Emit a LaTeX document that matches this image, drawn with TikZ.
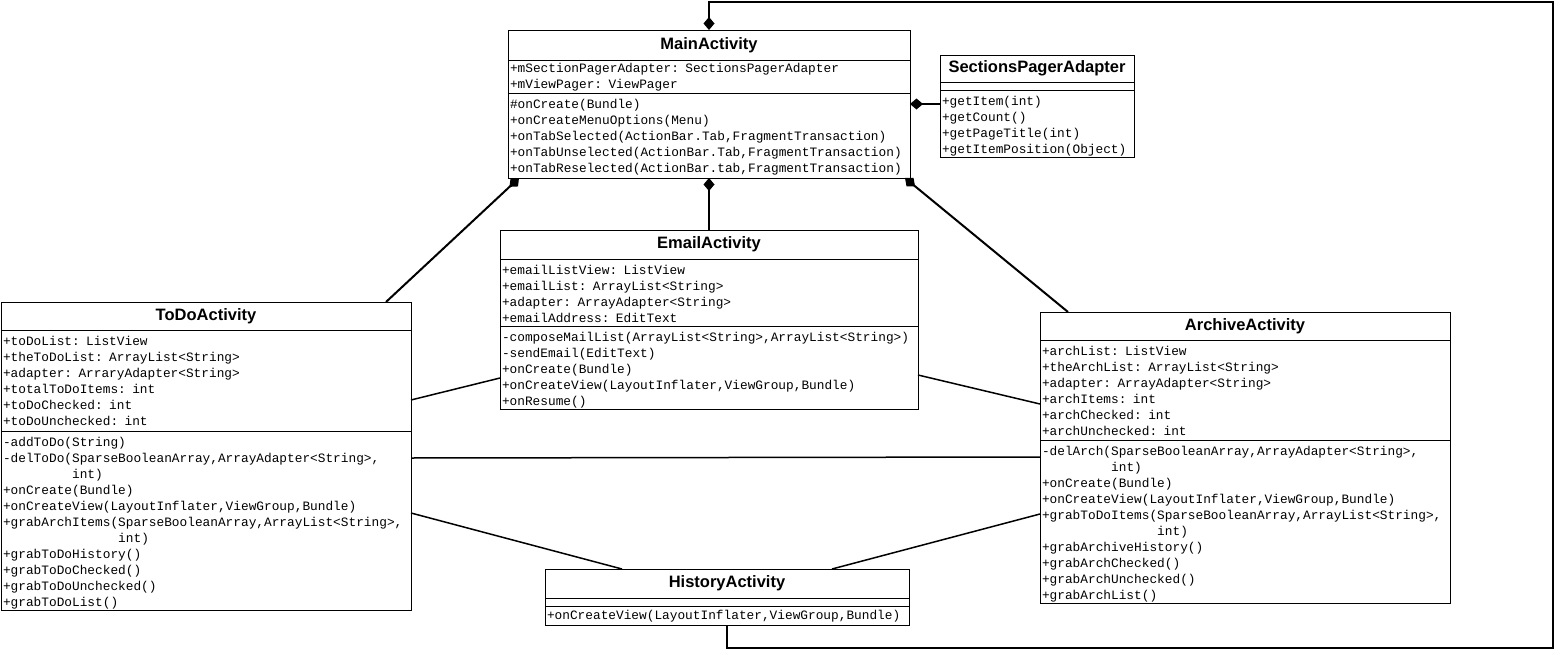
\documentclass[tikz,border=0pt]{standalone}
\usepackage{fontspec}
\setmonofont{Liberation Mono}
\newfontfamily\headfam{Liberation Sans}
\usetikzlibrary{positioning,calc,arrows.meta}
\newcommand\classfont{\fontsize{16.5}{18}\headfam\bfseries}
\newcommand\memberfont{\fontsize{12.8}{16}\ttfamily}

\begin{document}
\begin{tikzpicture}[x=1pt,y=-1pt,
        headbox/.style={draw, line width=1pt, outer sep=0pt, inner sep=0pt, font=\classfont},
        partbox/.style={draw, line width=1pt, outer sep=0pt, inner xsep=2pt, inner ysep=0pt,
            text height=15pt, align=left, font=\memberfont},
        emptybox/.style={draw, line width=1pt, outer sep=0pt, inner sep=0pt, minimum height=8pt},
        owns/.style={line width=2pt, -{Diamond[length=13pt,width=11pt]}},
        assoc/.style={line width=1.5pt}]
    \useasboundingbox (0,0) rectangle (1556,653);

    % MainActivity
    \node[headbox, anchor=north west, minimum width=402pt, minimum height=30pt] (main) at (508,30) {MainActivity};
    \node[partbox, below=0pt of main, text width=398pt, text height=12.5pt, text depth=20.5pt] (main-a) {+mSectionPagerAdapter: SectionsPagerAdapter\\+mViewPager: ViewPager};
    \node[partbox, below=0pt of main-a, text width=398pt, text depth=70pt] (main-m) {\#onCreate(Bundle)\\+onCreateMenuOptions(Menu)\\+onTabSelected(ActionBar.Tab,FragmentTransaction)\\+onTabUnselected(ActionBar.Tab,FragmentTransaction)\\+onTabReselected(ActionBar.tab,FragmentTransaction)};

    % SectionsPagerAdapter
    \node[headbox, anchor=north west, minimum width=194pt, minimum height=27pt] (sect) at (940,55) {SectionsPagerAdapter};
    \node[emptybox, below=0pt of sect, minimum width=194pt] (sect-a) {};
    \node[partbox, below=0pt of sect-a, text width=190pt, text depth=52pt] (sect-m) {+getItem(int)\\+getCount()\\+getPageTitle(int)\\+getItemPosition(Object)};

    % EmailActivity
    \node[headbox, anchor=north west, minimum width=418pt, minimum height=29pt] (email) at (500,230) {EmailActivity};
    \node[partbox, below=0pt of email, text width=414pt, text depth=52pt] (email-a) {+emailListView: ListView\\+emailList: ArrayList<String>\\+adapter: ArrayAdapter<String>\\+emailAddress: EditText};
    \node[partbox, below=0pt of email-a, text width=414pt, text depth=68pt] (email-m) {-composeMailList(ArrayList<String>,ArrayList<String>)\\-sendEmail(EditText)\\+onCreate(Bundle)\\+onCreateView(LayoutInflater,ViewGroup,Bundle)\\+onResume()};

    % ToDoActivity
    \node[headbox, anchor=north west, minimum width=410pt, minimum height=28pt] (todo) at (1,302) {ToDoActivity};
    \node[partbox, below=0pt of todo, text width=406pt, text depth=86pt] (todo-a) {+toDoList: ListView\\+theToDoList: ArrayList<String>\\+adapter: ArraryAdapter<String>\\+totalToDoItems: int\\+toDoChecked: int\\+toDoUnchecked: int};
    \node[partbox, below=0pt of todo-a, text width=406pt, text depth=164pt] (todo-m) {-addToDo(String)\\-delToDo(SparseBooleanArray,ArrayAdapter<String>,\\\phantom{-delToDo(}int)\\+onCreate(Bundle)\\+onCreateView(LayoutInflater,ViewGroup,Bundle)\\+grabArchItems(SparseBooleanArray,ArrayList<String>,\\\phantom{+grabArchItems(}int)\\+grabToDoHistory()\\+grabToDoChecked()\\+grabToDoUnchecked()\\+grabToDoList()};

    % ArchiveActivity
    \node[headbox, anchor=north west, minimum width=410pt, minimum height=28pt] (arch) at (1040,312) {ArchiveActivity};
    \node[partbox, below=0pt of arch, text width=406pt, text depth=85pt] (arch-a) {+archList: ListView\\+theArchList: ArrayList<String>\\+adapter: ArrayAdapter<String>\\+archItems: int\\+archChecked: int\\+archUnchecked: int};
    \node[partbox, below=0pt of arch-a, text width=406pt, text depth=148pt] (arch-m) {-delArch(SparseBooleanArray,ArrayAdapter<String>,\\\phantom{-delArch(}int)\\+onCreate(Bundle)\\+onCreateView(LayoutInflater,ViewGroup,Bundle)\\+grabToDoItems(SparseBooleanArray,ArrayList<String>,\\\phantom{+grabToDoItems(}int)\\+grabArchiveHistory()\\+grabArchChecked()\\+grabArchUnchecked()\\+grabArchList()};

    % HistoryActivity
    \node[headbox, anchor=north west, minimum width=364pt, minimum height=29pt] (hist) at (545,569) {HistoryActivity};
    \node[emptybox, below=0pt of hist, minimum width=364pt] (hist-a) {};
    \node[partbox, below=0pt of hist-a, text width=360pt, text height=13.5pt, text depth=5.5pt] (hist-m) {+onCreateView(LayoutInflater,ViewGroup,Bundle)};

    % compositions into MainActivity
    \coordinate (loopbr) at (1553,648);
    \coordinate (looptl) at (709,2);
    \draw[owns] (hist-m.south) |- (loopbr) |- (looptl) -- (main.north);
    \draw[owns] ($(sect.north west)+(0,49)$) -- ($(main.north east)+(0,74)$);
    \draw[owns] ($(todo.north west)+(385,0)$) -- ($(main-m.south west)+(11,0)$);
    \draw[owns] (email.north) -- (main-m.south);
    \draw[owns] ($(arch.north west)+(28,0)$) -- ($(main-m.south east)+(-5,0)$);

    % associations
    \draw[assoc] ($(todo.north east)+(0,98)$) -- ($(email.north west)+(0,148)$);
    \draw[assoc] ($(email.north east)+(0,145)$) -- ($(arch.north west)+(0,92)$);
    \draw[assoc] ($(todo.north east)+(0,156)$) -- ($(arch.north west)+(0,145)$);
    \draw[assoc] ($(todo.north east)+(0,211)$) -- ($(hist.north west)+(77,0)$);
    \draw[assoc] ($(arch.north west)+(0,202)$) -- ($(hist.north west)+(287,0)$);
\end{tikzpicture}
\end{document}
